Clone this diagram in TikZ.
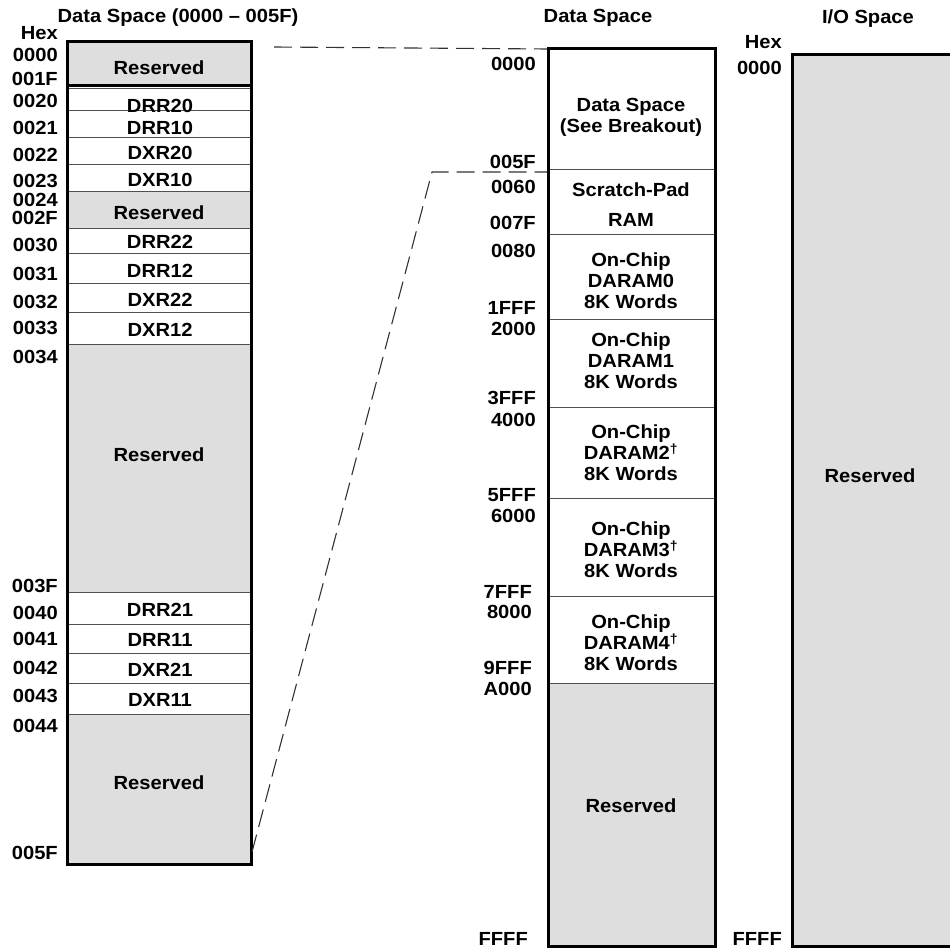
\documentclass[tikz,border=0pt]{standalone}
\usepackage{fontspec}
\setmainfont{Liberation Sans}[FakeStretch=1.06]
\definecolor{resgray}{RGB}{222,222,222}
\definecolor{linegray}{RGB}{80,80,80}
\definecolor{dashgray}{RGB}{50,50,50}
\begin{document}
\begin{tikzpicture}[x=1pt,y=-1pt,
  font=\fontsize{19}{21}\selectfont\bfseries,
  lab/.style={inner sep=0pt,text height=13.5pt,text depth=0pt,anchor=east},
  cell/.style={inner sep=0pt,text height=13.5pt,text depth=0pt},
  multi/.style={inner sep=0pt,align=center,anchor=north},
  box/.style={line width=3pt},
  sep/.style={line width=1pt,draw=linegray},
  conn/.style={dash pattern=on 18pt off 8pt,line width=1.1pt,draw=dashgray}]
\useasboundingbox (0,0) rectangle (950,949);

% ---------- left column: Data Space (0000-005F)
\fill[resgray] (67,42) rectangle (251,87);
\fill[resgray] (67,192) rectangle (251,229);
\fill[resgray] (67,345) rectangle (251,592);
\fill[resgray] (67,714) rectangle (251,864);
\foreach \y in {89,111,138,165,192,229,254,284,313,345,592,624,653,683,714}
  \draw[sep] (67,\y) -- (251,\y);
\draw[box] (67,86) -- (251,86);
\draw[box] (67,42) rectangle (251,864);

\node[cell] (ltitle) at (178,16) {Data Space (0000 -- 005F)};
\node[lab] (lhex) at (58,33) {Hex};
\node[lab] (l0000) at (58,55) {0000};
\node[lab] (l001F) at (58,79) {001F};
\node[lab] (l0020) at (58,101) {0020};
\node[lab] (l0021) at (58,128) {0021};
\node[lab] (l0022) at (58,155) {0022};
\node[lab] (l0023) at (58,181) {0023};
\node[lab] (l0024) at (58,200) {0024};
\node[lab] (l002F) at (58,218) {002F};
\node[lab] (l0030) at (58,245) {0030};
\node[lab] (l0031) at (58,274) {0031};
\node[lab] (l0032) at (58,302) {0032};
\node[lab] (l0033) at (58,328) {0033};
\node[lab] (l0034) at (58,357) {0034};
\node[lab] (l003F) at (58,586) {003F};
\node[lab] (l0040) at (58,613) {0040};
\node[lab] (l0041) at (58,639) {0041};
\node[lab] (l0042) at (58,668) {0042};
\node[lab] (l0043) at (58,696) {0043};
\node[lab] (l0044) at (58,726) {0044};
\node[lab] (l005F) at (58,853) {005F};

\node[cell] (lres1) at (159,68) {Reserved};
\node[cell] (ldrr20) at (160,106) {DRR20};
\node[cell] (ldrr10) at (160,128) {DRR10};
\node[cell] (ldxr20) at (160,153) {DXR20};
\node[cell] (ldxr10) at (160,180) {DXR10};
\node[cell] (lres2) at (159,213) {Reserved};
\node[cell] (ldrr22) at (160,242) {DRR22};
\node[cell] (ldrr12) at (160,271) {DRR12};
\node[cell] (ldxr22) at (160,300) {DXR22};
\node[cell] (ldxr12) at (160,330) {DXR12};
\node[cell] (lres3) at (159,455) {Reserved};
\node[cell] (ldrr21) at (160,610) {DRR21};
\node[cell] (ldrr11) at (160,640) {DRR11};
\node[cell] (ldxr21) at (160,670) {DXR21};
\node[cell] (ldxr11) at (160,700) {DXR11};
\node[cell] (lres4) at (159,783) {Reserved};

% ---------- middle column: Data Space
\fill[resgray] (548,683) rectangle (715,946);
\foreach \y in {170,235,320,407,498,596,683}
  \draw[sep] (548,\y) -- (715,\y);
\draw[box] (548,49) rectangle (715,946);

\node[cell] (mtitle) at (598,16) {Data Space};
\node[lab] (m0000) at (536,64) {0000};
\node[lab] (m005F) at (536,162) {005F};
\node[lab] (m0060) at (536,187) {0060};
\node[lab] (m007F) at (536,223) {007F};
\node[lab] (m0080) at (536,251) {0080};
\node[lab] (m1FFF) at (536,308) {1FFF};
\node[lab] (m2000) at (536,329) {2000};
\node[lab] (m3FFF) at (536,398) {3FFF};
\node[lab] (m4000) at (536,420) {4000};
\node[lab] (m5FFF) at (536,495) {5FFF};
\node[lab] (m6000) at (536,516) {6000};
\node[lab] (m7FFF) at (532,592) {7FFF};
\node[lab] (m8000) at (532,612) {8000};
\node[lab] (m9FFF) at (532,668) {9FFF};
\node[lab] (mA000) at (532,689) {A000};
\node[lab] (mFFFF) at (528,939) {FFFF};

\node[multi] (mdata) at (631,98) {Data Space\\(See Breakout)};
\node[multi] (mscr) at (631,183) {Scratch-Pad\\[9pt]RAM};
\node[multi] (md0) at (631,253) {On-Chip\\DARAM0\\8K Words};
\node[multi] (md1) at (631,333) {On-Chip\\DARAM1\\8K Words};
\node[multi] (md2) at (631,425) {On-Chip\\DARAM2\textsuperscript{†}\\8K Words};
\node[multi] (md3) at (631,522) {On-Chip\\DARAM3\textsuperscript{†}\\8K Words};
\node[multi] (md4) at (631,615) {On-Chip\\DARAM4\textsuperscript{†}\\8K Words};
\node[cell] (mres) at (631,806) {Reserved};

% ---------- right column: I/O Space
\fill[resgray] (792,55) rectangle (965,946);
\draw[box] (965,55) -- (792,55) -- (792,946) -- (965,946);
\node[cell] (iotitle) at (868,17) {I/O Space};
\node[lab] (iohex) at (782,42) {Hex};
\node[lab] (io0000) at (782,68) {0000};
\node[lab] (ioFFFF) at (782,939) {FFFF};
\node[cell] (iores) at (870,476) {Reserved};

% ---------- breakout connectors
\coordinate (dA) at (274,47);
\coordinate (dB) at (547,49);
\coordinate (dC) at (252,852);
\coordinate (dD) at (432,172);
\coordinate (dE) at (547,172);
\draw[conn] (dA) -- (dB);
\draw[conn] (dC) -- (dD) -- (dE);
\end{tikzpicture}
\end{document}
